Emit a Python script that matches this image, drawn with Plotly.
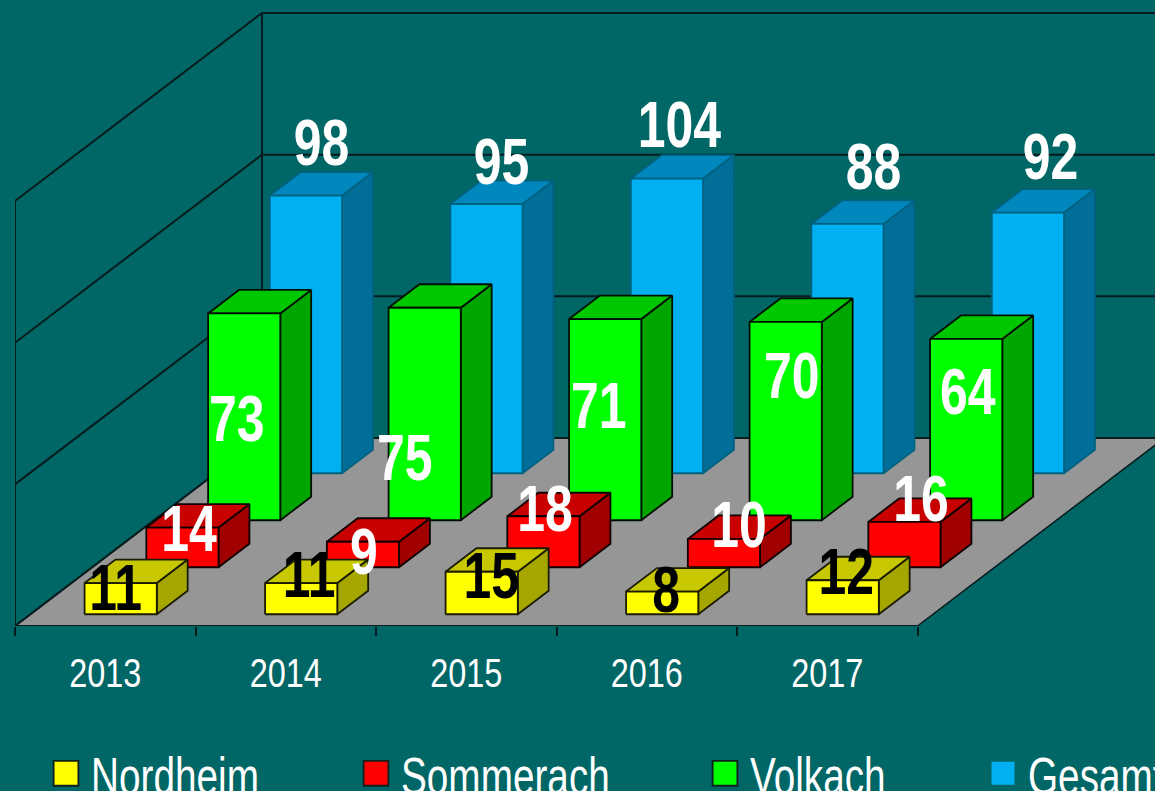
import plotly.graph_objects as go

# ---- data ----
years = ["2013", "2014", "2015", "2016", "2017"]
series_names = ["Nordheim", "Sommerach", "Volkach", "Gesamt"]
nordheim = [11, 11, 15, 8, 12]
sommerach = [14, 9, 18, 10, 16]
volkach = [73, 75, 71, 70, 64]
gesamt = [98, 95, 104, 88, 92]
all_values = [nordheim, sommerach, volkach, gesamt]

front_colors = ["#FFFF00", "#FF0000", "#00FF00", "#00B0F0"]
top_colors = ["#C8C800", "#C80000", "#00C800", "#0088BE"]
side_colors = ["#A6A600", "#A00000", "#00A600", "#006E99"]
edge_colors = ["#1c1c00", "#100000", "#001000", "#00627f"]
label_colors = ["black", "white", "white", "white"]

# hand-placed data-label offsets in pixels from the bar's top centre (x right, y up)
label_dx = [[-5, 8, 9.5, 4, 3.5], [6.5, 1, 1.5, 15, 16.5],
            [-7.5, -20, -6.5, 6, 1.5], [15.5, 15, 12.5, 26, 22.5]]
label_dy = [[-4, 9, -3.5, 2, 9], [-1, -9.5, 8, 14.5, 23.7],
            [-105, -150, -86, -54, -53], [53, 43, 54, 57, 56]]
LABEL_BASE_SHIFT = -6.5

# ---- layout geometry ----
W, H = 1155, 791
ML, MB = 15, 165
PX_CAT = 180.5        # pixels per category
PX_VAL = 2.8333       # pixels per value unit
DEPTH_CAT = 247 / PX_CAT   # oblique shift of full depth, in category units
DEPTH_VAL = 188 / PX_VAL   # in value units
WALL_MAX = 150
GRID = [0, 50, 100, 150]
N = len(years)
BAR_L, BAR_R = 0.3, 0.7
BG = "#006666"
FLOOR = "#969696"
WALL_LINE = "#061c1e"
FONT = "Liberation Sans, Arial, sans-serif"


def proj(cat, depth, val):
    return cat + depth * DEPTH_CAT, val + depth * DEPTH_VAL


def poly(points):
    xs, ys = zip(*[proj(*p) for p in points])
    return list(xs) + [xs[0]], list(ys) + [ys[0]]


fig = go.Figure()


def add_shape_trace(points_list, fill, line, width=1.8):
    xs, ys = [], []
    for pts in points_list:
        px, py = poly(pts)
        xs += px + [None]
        ys += py + [None]
    fig.add_trace(go.Scatter(x=xs, y=ys, mode="lines", fill="toself" if fill else None,
                             fillcolor=fill, line=dict(color=line, width=width),
                             hoverinfo="skip", showlegend=False, cliponaxis=False))


def add_line(a, b, width=2):
    xa, ya = proj(*a)
    xb, yb = proj(*b)
    fig.add_trace(go.Scatter(x=[xa, xb], y=[ya, yb], mode="lines",
                             line=dict(color=WALL_LINE, width=width),
                             hoverinfo="skip", showlegend=False, cliponaxis=False))


# floor
add_shape_trace([[(0, 0, 0), (N, 0, 0), (N, 1, 0), (0, 1, 0)]], FLOOR, WALL_LINE, 1.5)
# walls and grid lines
for g in GRID:
    add_line((0, 0, g), (0, 1, g))
    add_line((0, 1, g), (N + 2, 1, g))
add_line((0, 0, 0), (0, 0, WALL_MAX))
add_line((0, 1, 0), (0, 1, WALL_MAX))
add_line((0, 0, 0), (N, 0, 0))

# bars, back to front
for s in reversed(range(4)):
    d0 = 0.0625 + 0.25 * s
    d1 = d0 + 0.125
    vals = all_values[s]
    fronts, tops, sides = [], [], []
    for i, v in enumerate(vals):
        l, r = i + BAR_L, i + BAR_R
        sides.append([(r, d0, 0), (r, d1, 0), (r, d1, v), (r, d0, v)])
        tops.append([(l, d0, v), (r, d0, v), (r, d1, v), (l, d1, v)])
        fronts.append([(l, d0, 0), (r, d0, 0), (r, d0, v), (l, d0, v)])
    add_shape_trace(sides, side_colors[s], edge_colors[s])
    add_shape_trace(tops, top_colors[s], edge_colors[s])
    add_shape_trace(fronts, front_colors[s], edge_colors[s])

# data labels
for s in range(4):
    d0 = 0.0625 + 0.25 * s
    xs, ys, txt = [], [], []
    for i, v in enumerate(all_values[s]):
        x, y = proj(i + 0.5, d0, v)
        xs.append(x + label_dx[s][i] / PX_CAT)
        ys.append(y + (label_dy[s][i] + LABEL_BASE_SHIFT) / PX_VAL)
        txt.append(str(v))
    fig.add_trace(go.Scatter(x=xs, y=ys, text=txt, mode="text", textposition="middle center",
                             textfont=dict(family=FONT, size=64, color=label_colors[s], weight="bold"),
                             hoverinfo="skip", showlegend=False, cliponaxis=False))

# legends: one per series, placed side by side
legend_left = [53, 363, 712, 990]
legend_layout = {}
for s, name in enumerate(series_names):
    key = "legend" if s == 0 else f"legend{s + 1}"
    fig.add_trace(go.Scatter(x=[None], y=[None], mode="markers", name=name, legend=key,
                             marker=dict(symbol="square", size=16, color=front_colors[s],
                                         line=dict(color="#10201f" if s < 3 else BG, width=1.2))))
    legend_layout[key] = dict(x=(legend_left[s] - 12 - ML) / (W - ML), xanchor="left",
                              y=-(733 - (H - MB)) / (H - MB), yanchor="top",
                              bgcolor="rgba(0,0,0,0)", borderwidth=0, itemwidth=40,
                              font=dict(family=FONT, size=52, color="white"))

fig.update_layout(
    width=W, height=H, paper_bgcolor=BG, plot_bgcolor=BG,
    margin=dict(l=ML, r=0, t=0, b=MB, autoexpand=False),
    xaxis=dict(range=[0, (W - ML) / PX_CAT], showgrid=False, zeroline=False, showline=False,
               tickmode="array", tickvals=[i + 0.5 for i in range(N)], ticktext=years, ticks="",
               ticklabelstandoff=20,
               tickfont=dict(family=FONT, size=40, color="white"),
               minor=dict(tickmode="array", tickvals=list(range(N + 1)), ticks="outside",
                          ticklen=9, tickwidth=1.5, tickcolor=WALL_LINE, showgrid=False)),
    yaxis=dict(range=[0, (H - MB) / PX_VAL], visible=False),
    **legend_layout,
)

# page fit, and the reference's horizontally condensed lettering and large legend keys
POST = """
document.body.style.margin = '0';
document.body.style.overflow = 'hidden';
function squeeze(sel, sx) {
  document.querySelectorAll(sel).forEach(function (t) {
    var x = parseFloat(t.getAttribute('x')) || 0;
    var prev = t.getAttribute('transform') || '';
    t.setAttribute('transform', prev + ' translate(' + x + ',0) scale(' + sx + ',1) translate(' + (-x) + ',0)');
  });
}
squeeze('.textpoint text', 0.78);
squeeze('.xtick text', 0.81);
squeeze('.legendtext, .legend2text, .legend3text, .legend4text', 0.745);
document.querySelectorAll('.legendpoints path.scatterpts').forEach(function (p) {
  p.setAttribute('transform', (p.getAttribute('transform') || '') + ' scale(1.55)');
});
"""
fig.write_html("out.html", config=dict(displayModeBar=False), post_script=POST)
